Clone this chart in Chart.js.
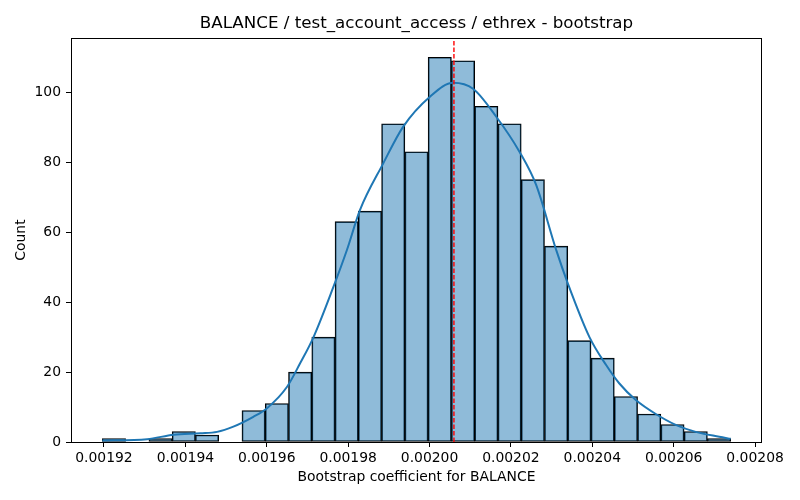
<!DOCTYPE html>
<html>
<head>
<meta charset="utf-8">
<title>BALANCE bootstrap</title>
<script src="https://cdn.jsdelivr.net/npm/chart.js@4.4.1/dist/chart.umd.min.js"></script>
<style>
  body { margin: 0; background: #fff; }
  #wrap { width: 800px; height: 500px; }
</style>
</head>
<body>
<div id="wrap"><canvas id="hist" width="800" height="500"></canvas></div>
<script>
// histogram of 1000 bootstrap coefficients, 27 equal bins
const binLo = 0.0019196;
const binHi = 0.0020740;
const counts = [1, 0, 1, 3, 2, 0, 9, 11, 20, 30, 63, 66, 91, 83, 110, 109, 96, 91, 75, 56, 29, 24, 13, 8, 5, 3, 1];

// kde curve (x value, count)
const kdeX = [0.0019196, 0.0019306, 0.0019371, 0.0019437, 0.0019478, 0.0019518, 0.0019567, 0.0019600,
  0.0019650, 0.0019682, 0.0019715, 0.0019764, 0.0019797, 0.0019829, 0.0019886, 0.0019935, 0.0020001,
  0.0020058, 0.0020107, 0.0020164, 0.0020221, 0.0020262, 0.0020311, 0.0020340, 0.0020393, 0.0020434,
  0.0020466, 0.0020507, 0.0020556, 0.0020605, 0.0020654, 0.0020712, 0.0020740];
const kdeY = [0.4, 0.8, 2.1, 2.5, 2.9, 4.4, 7.2, 9.6,
  15.8, 22.5, 30, 44.4, 54.9, 66.3, 79.6, 90.1, 98.7,
  102.7, 101, 93, 83, 73.5, 55, 45.3, 30, 22,
  16.8, 12, 8, 4.9, 2.9, 1.5, 0.9];

const meanCoef = 0.0020060;

const xTicks = [0.00192, 0.00194, 0.00196, 0.00198, 0.00200, 0.00202, 0.00204, 0.00206, 0.00208];
const yTicks = [0, 20, 40, 60, 80, 100];
const xMin = 0.0019119, xMax = 0.0020817;
const yMax = 115.5;

let binW = (binHi - binLo) / counts.length;
let histData = counts.map((c, i) => ({x: binLo + binW * (i + 0.5), y: c}));
let kdeData = kdeX.map((x, i) => ({x: x, y: kdeY[i]}));

const font = {family: "'DejaVu Sans', sans-serif", size: 13.9};

// matplotlib style box round the axes
const frame = {
  id: 'frame',
  afterDraw(chart) {
    const a = chart.chartArea, ctx = chart.ctx;
    ctx.save();
    ctx.strokeStyle = '#000';
    ctx.lineWidth = 1;
    ctx.strokeRect(Math.round(a.left) + 0.5, Math.round(a.top) + 0.5,
      Math.round(a.right - a.left) - 1, Math.round(a.bottom - a.top));
    ctx.restore();
  }
};

new Chart(document.getElementById('hist'), {
  type: 'bar',
  data: {
    datasets: [{
      type: 'line',
      data: [{x: meanCoef, y: 0}, {x: meanCoef, y: yMax}],
      borderColor: '#ff0000',
      borderWidth: 1.4,
      borderDash: [4.5, 2],
      pointRadius: 0,
      order: 1
    }, {
      type: 'line',
      data: kdeData,
      borderColor: '#1f77b4',
      borderWidth: 2,
      pointRadius: 0,
      cubicInterpolationMode: 'monotone',
      order: 2
    }, {
      type: 'bar',
      data: histData,
      backgroundColor: 'rgba(31,119,180,0.5)',
      borderColor: '#000',
      borderWidth: 1,
      borderSkipped: false,
      barPercentage: 1,
      categoryPercentage: 1,
      order: 3
    }]
  },
  options: {
    responsive: false,
    animation: false,
    layout: {padding: {left: 0, right: 38, top: 0, bottom: 0}},
    plugins: {
      legend: {display: false},
      tooltip: {enabled: false},
      title: {
        display: true,
        fullSize: false,
        text: 'BALANCE / test_account_access / ethrex - bootstrap',
        color: '#000',
        font: {family: "'DejaVu Sans', sans-serif", size: 16.7, weight: 'normal'},
        padding: {top: 14, bottom: 4}
      }
    },
    scales: {
      x: {
        type: 'linear',
        min: xMin,
        max: xMax,
        offset: false,
        afterFit: (s) => { s.height = 58; },
        afterBuildTicks: (s) => { s.ticks = xTicks.map(v => ({value: v})); },
        grid: {display: true, drawOnChartArea: false, drawTicks: true, tickLength: 5, color: '#000', offset: false},
        border: {display: false},
        ticks: {color: '#000', font: font, padding: 3, maxRotation: 0,
          callback: (v) => v.toFixed(5)},
        title: {display: true, text: 'Bootstrap coefficient for BALANCE', color: '#000', font: font,
          padding: {top: 0, bottom: 14}}
      },
      y: {
        type: 'linear',
        min: 0,
        max: yMax,
        afterFit: (s) => { s.width = 71; },
        afterBuildTicks: (s) => { s.ticks = yTicks.map(v => ({value: v})); },
        grid: {display: true, drawOnChartArea: false, drawTicks: true, tickLength: 5, color: '#000'},
        border: {display: false},
        ticks: {color: '#000', font: font, padding: 5},
        title: {display: true, text: 'Count', color: '#000', font: font, padding: {top: 13, bottom: 0}}
      }
    }
  },
  plugins: [frame]
});
</script>
</body>
</html>
